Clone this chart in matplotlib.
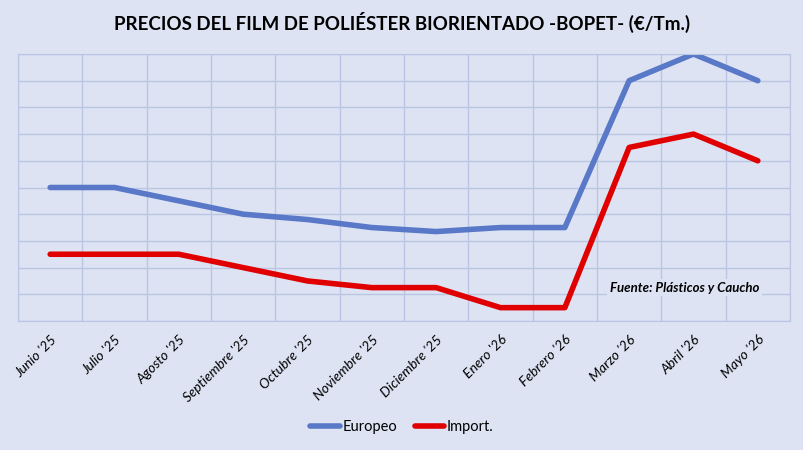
import numpy as np
import matplotlib.pyplot as plt

meses = ["Junio '25", "Julio '25", "Agosto '25", "Septiembre '25", "Octubre '25",
         "Noviembre '25", "Diciembre '25", "Enero '26", "Febrero '26", "Marzo '26",
         "Abril '26", "Mayo '26"]

# Valores leidos en unidades de la rejilla (el original no muestra el eje Y)
europeo = [5.0, 5.0, 4.5, 4.0, 3.8, 3.5, 3.35, 3.5, 3.5, 9.0, 10.0, 9.0]
importado = [2.5, 2.5, 2.5, 2.0, 1.5, 1.25, 1.25, 0.5, 0.5, 6.5, 7.0, 6.0]

bg = '#dde3f3'
grid_col = '#b9c5e3'

plt.rcParams['font.family'] = ['Lato', 'DejaVu Sans']

fig = plt.figure(figsize=(8.04, 4.5), dpi=100, facecolor=bg)
ax = fig.add_axes([18 / 804, 1 - 321 / 450, 772 / 804, 267 / 450])
ax.set_facecolor(bg)

x = np.arange(len(meses))
ax.plot(x, europeo, color='#5a78c8', lw=4, solid_capstyle='round', solid_joinstyle='round', label='Europeo')
ax.plot(x, importado, color='#e00000', lw=4, solid_capstyle='round', solid_joinstyle='round', label='Import.')

ax.set_xlim(-0.5, len(meses) - 0.5)
ax.set_ylim(0, 10)
ax.set_yticks(np.arange(0, 11, 1))
ax.set_xticks(np.arange(-0.5, len(meses), 1), minor=True)
ax.set_xticks(x)
ax.set_xticklabels(meses, rotation=45, ha='right', rotation_mode='anchor',
                   fontsize=10, style='italic')
ax.set_yticklabels([])
ax.tick_params(axis='both', which='both', length=0)
ax.tick_params(axis='x', pad=9)
ax.grid(True, which='minor', axis='x', color=grid_col, lw=1)
ax.grid(True, which='major', axis='y', color=grid_col, lw=1)
for s in ax.spines.values():
    s.set_color(grid_col)
ax.set_axisbelow(True)

ax.text(0.96, 0.125, 'Fuente: Plásticos y Caucho', transform=ax.transAxes,
        ha='right', va='center', fontsize=9.5, style='italic', fontweight='bold',
        bbox=dict(facecolor=bg, edgecolor='none', pad=2))

fig.suptitle('PRECIOS DEL FILM DE POLIÉSTER BIORIENTADO -BOPET- (€/Tm.)',
             y=1 - 22 / 450, va='center', fontsize=13.5, fontweight='bold')

fig.legend(loc='center', bbox_to_anchor=(0.5, 1 - 427 / 450), ncol=2, frameon=False,
           fontsize=10.5, handlelength=2.0, handletextpad=0.2, columnspacing=1.2)

fig.savefig('out.png', dpi=100, facecolor=bg)
